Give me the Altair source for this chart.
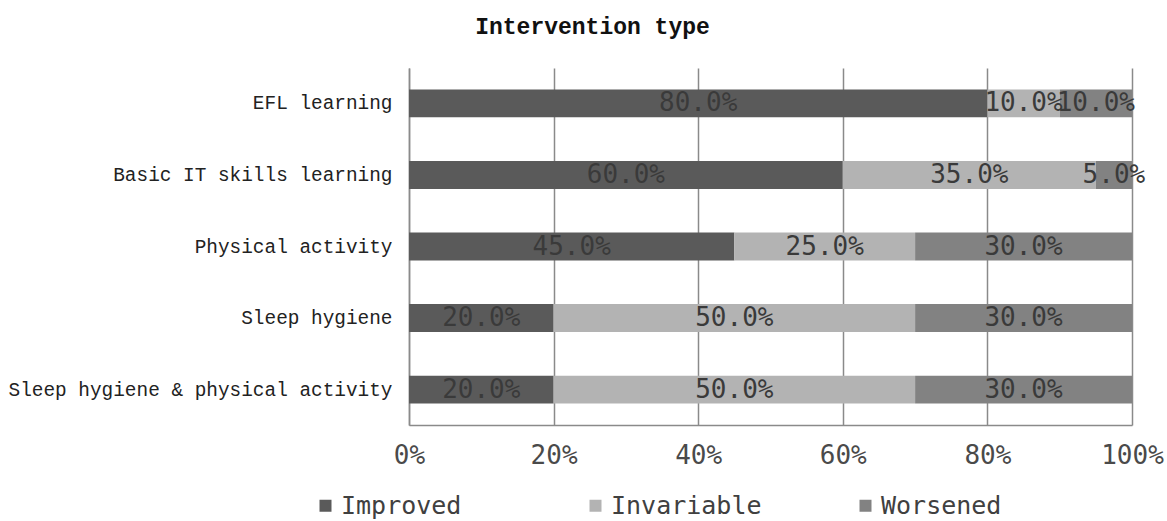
import altair as alt
import pandas as pd

categories = ["EFL learning", "Basic IT skills learning", "Physical activity",
              "Sleep hygiene", "Sleep hygiene & physical activity"]
series = ["Improved", "Invariable", "Worsened"]
improved = [80.0, 60.0, 45.0, 20.0, 20.0]
invariable = [10.0, 35.0, 25.0, 50.0, 50.0]
worsened = [10.0, 5.0, 30.0, 30.0, 30.0]
colors = ["#5a5a5a", "#b3b3b3", "#828282"]

rows = []
for i, c in enumerate(categories):
    for j, (s, vals) in enumerate(zip(series, [improved, invariable, worsened])):
        rows.append({"cat": c, "series": s, "order": j, "value": vals[i]})
df = pd.DataFrame(rows)

mono = "Liberation Mono"
sansmono = "DejaVu Sans Mono"

base = alt.Chart(df).transform_stack(
    stack="value", groupby=["cat"], as_=["x0", "x1"],
    sort=[alt.SortField("order", order="ascending")]
).transform_calculate(
    mid="(datum.x0 + datum.x1) / 2",
    label="format(datum.value, '.1f') + '%'"
)

y_enc = alt.Y("cat:N", sort=categories, title=None,
              scale=alt.Scale(paddingInner=0.61, paddingOuter=0.3),
              axis=alt.Axis(labelFont=mono, labelFontSize=19.4, labelColor="#222222",
                            labelPadding=17, labelLimit=600, ticks=False,
                            domainColor="#8a8a8a", domainWidth=1.5))

bars = base.mark_bar().encode(
    y=y_enc,
    x=alt.X("x0:Q", title=None,
            scale=alt.Scale(domain=[0, 100], nice=False),
            axis=alt.Axis(values=[0, 20, 40, 60, 80, 100],
                          labelExpr="datum.value + '%'",
                          labelFont=sansmono, labelFontSize=26, labelColor="#4a4a4a",
                          labelPadding=17, labelFlush=False, labelOverlap=False,
                          labelBound=False,
                          ticks=False, grid=True, gridColor="#8a8a8a", gridWidth=1.5,
                          domainColor="#8a8a8a", domainWidth=1.5)),
    x2="x1:Q",
    color=alt.Color("series:N", sort=series,
                    scale=alt.Scale(domain=series, range=colors),
                    legend=alt.Legend(title=None, orient="none", direction="horizontal",
                                      legendX=-96, legendY=425,
                                      symbolType="square", symbolSize=144,
                                      symbolStrokeWidth=0, labelOffset=3,
                                      labelFont=sansmono, labelFontSize=25,
                                      labelColor="#404040", gridAlign="all",
                                      columnPadding=91, labelLimit=400)),
    order=alt.Order("order:Q")
)

texts = base.mark_text(font=sansmono, fontSize=26, color="#3a3a3a",
                       baseline="middle", align="center").encode(
    y=alt.Y("cat:N", sort=categories),
    x=alt.X("mid:Q"),
    text="label:N"
)

chart = alt.layer(bars, texts).properties(
    width=723, height=357,
    autosize=alt.AutoSizeParams(type="none"),
    padding={"left": 409, "top": 68, "right": 35, "bottom": 96},
    title=alt.TitleParams("Intervention type", font=mono, fontSize=23,
                          fontWeight="bold", color="#111111", anchor="middle",
                          dx=-178, offset=29)
).configure_view(stroke=None).configure_axis(domainColor="#8a8a8a")

chart.save("out.html", embed_options={"renderer": "svg", "actions": False})
